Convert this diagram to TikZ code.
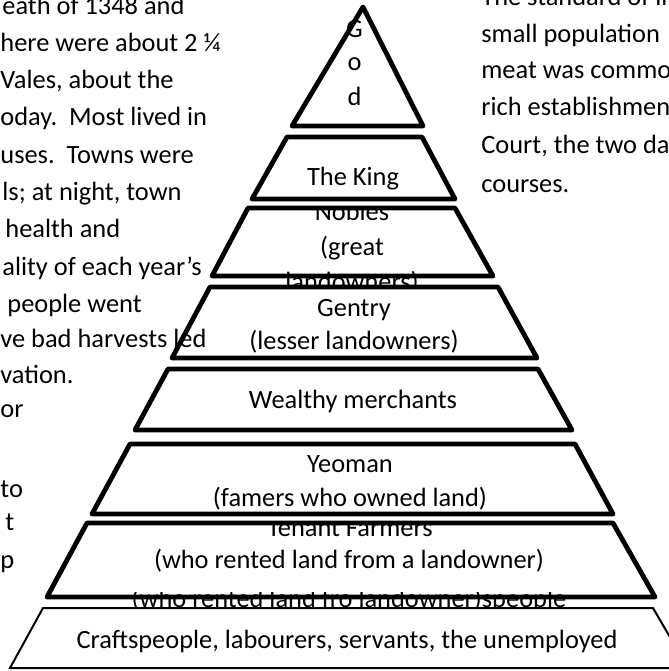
\documentclass[tikz,border=0pt]{standalone}
\usepackage{fontspec}
\setmainfont{Carlito}
\usepackage{tikz}

\begin{document}
\begin{tikzpicture}[x=0.5pt, y=-0.5pt]
        % Styles
        \tikzstyle{tier} = [draw=black, line width=2.4pt, line join=round]
        \tikzstyle{thin tier} = [draw=black, line width=1pt]
        \tikzstyle{tiertext} = [inner sep=0pt, anchor=base, font=\fontsize{13.2}{16}\selectfont]
        \tikzstyle{para} = [inner sep=0pt, anchor=base west, font=\fontsize{13.2}{16}\selectfont]

        % Cadre
        \useasboundingbox (0,0) rectangle (669,671);
        \fill[white] (0,0) rectangle (669,671);
        \clip (0,0) rectangle (669,671);

        % Dieu
        \fill[white] (363,7) -- (423,126) -- (292,126) -- cycle;
        \node (godG) [tiertext] at (354.5,37) {G};
        \node (godO) [tiertext] at (354.5,70) {o};
        \node (godD) [tiertext] at (354.5,105) {d};
        \draw[tier] (363,7) -- (423,126) -- (292,126) -- cycle;

        % Le roi
        \fill[white] (287,137) -- (422,137) -- (455,199) -- (252,199) -- cycle;
        \node (king) [tiertext] at (353,185) {The King};
        \draw[tier] (287,137) -- (422,137) -- (455,199) -- (252,199) -- cycle;

        % Nobles
        \fill[white] (248,208) -- (455,208) -- (493,276) -- (212,276) -- cycle;
        \begin{scope}
            \clip (0,208) rectangle (669,300);
            \node (nobles) [tiertext] at (352,220) {Nobles};
            \node (great) [tiertext] at (352,255) {(great};
            \node (landowners) [tiertext] at (352,290) {landowners)};
        \end{scope}
        \draw[tier] (248,208) -- (455,208) -- (493,276) -- (212,276) -- cycle;

        % Gentry
        \fill[white] (210,287) -- (498,287) -- (537,358) -- (172,358) -- cycle;
        \node (gentry) [tiertext] at (354,316) {Gentry};
        \node (lesser) [tiertext] at (354,349) {(lesser landowners)};
        \draw[tier] (210,287) -- (498,287) -- (537,358) -- (172,358) -- cycle;

        % Marchands
        \fill[white] (168,369) -- (538,369) -- (572,430) -- (135,430) -- cycle;
        \node (merchants) [tiertext] at (353,408) {Wealthy merchants};
        \draw[tier] (168,369) -- (538,369) -- (572,430) -- (135,430) -- cycle;

        % Yeoman
        \fill[white] (130,444) -- (575,444) -- (613,514) -- (92,514) -- cycle;
        \node (yeoman) [tiertext] at (350,472) {Yeoman};
        \node (famers) [tiertext] at (350,506) {(famers who owned land)};
        \draw[tier] (130,444) -- (575,444) -- (613,514) -- (92,514) -- cycle;

        % Fermiers
        \fill[white] (87,523) -- (613,523) -- (655,597) -- (47,597) -- cycle;
        \begin{scope}
            \clip (0,524) rectangle (669,640);
            \node (tenant) [tiertext] at (350,536) {Tenant Farmers};
            \node (rented) [tiertext] at (349,568) {(who rented land from a landowner)};
        \end{scope}
        \begin{scope}
            \clip (0,592) rectangle (669,607);
            \node (overflow) [tiertext] at (349,607) {(who rented land fro landowner)speople};
        \end{scope}
        \draw[tier] (87,523) -- (613,523) -- (655,597) -- (47,597) -- cycle;

        % Base
        \fill[white] (43,608) -- (653,608) -- (688,668) -- (10,668) -- cycle;
        \node (commoners) [tiertext] at (347,648) {Craftspeople, labourers, servants, the unemployed};
        \draw[thin tier] (43,608) -- (653,608) -- (688,668) -- (10,668) -- cycle;

        % Texte de gauche
        \node (left1) [para] at (2,14) {eath of 1348 and};
        \node (left2) [para] at (0,51) {here were about 2 ¼};
        \node (left3) [para] at (0,88) {Vales, about the};
        \node (left4) [para] at (0,125) {oday.\ \ Most lived in};
        \node (left5) [para] at (0,163) {uses.\ \ Towns were};
        \node (left6) [para] at (2,200) {ls; at night, town};
        \node (left7) [para] at (5,237) {health and};
        \node (left8) [para] at (2,275) {ality of each year’s};
        \node (left9) [para] at (7,312) {people went};
        \node (left10) [para] at (0,347) {ve bad harvests led};
        \node (left11) [para] at (0,383) {vation.};
        \node (left12) [para] at (0,417) {or};
        \node (left13) [para] at (0,497) {to};
        \node (left14) [para] at (5,530) {t};
        \node (left15) [para] at (0,568) {p};

        % Texte de droite
        \node (right1) [para] at (481,5) {The standard of li};
        \node (right2) [para] at (481,42) {small population};
        \node (right3) [para] at (481,78) {meat was commo};
        \node (right4) [para] at (481,115) {rich establishmen};
        \node (right5) [para] at (481,153) {Court, the two da};
        \node (right6) [para] at (481,192) {courses.};
    \end{tikzpicture}
\end{document}
